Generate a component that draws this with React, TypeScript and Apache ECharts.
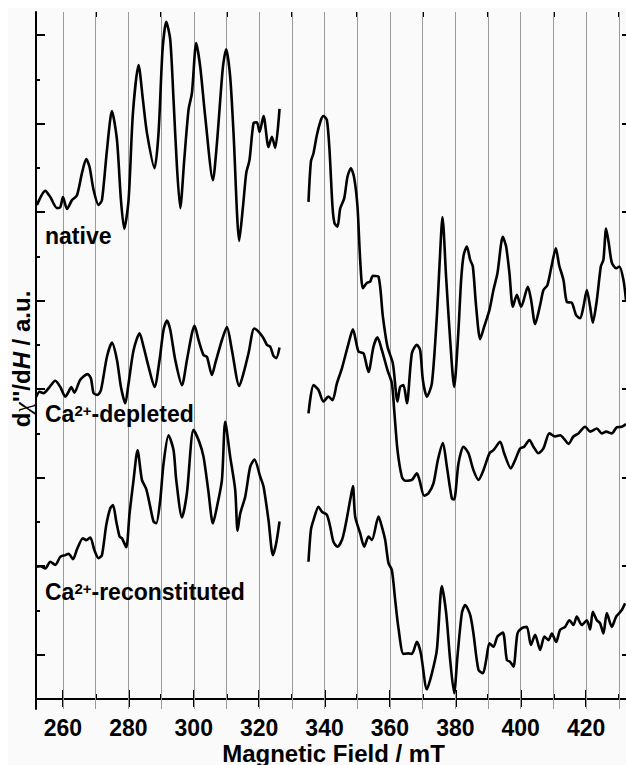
import React, { useEffect, useRef } from 'react';
import * as echarts from 'echarts';

// Magnetic field (mT) and derivative signal (a.u.) for each trace, in two segments
const nativeLeftField = [252.05,254.59,256.12,258.17,259.17,260,261.22,262.75,264.28,265.81,267.12,268.13,269.36,270.89,271.92,273.45,274.98,276.51,277.73,278.74,280.06,281.40,283.12,284.46,285.68,288.01,289.23,290.45,291.59,292.81,293.82,294.86,295.87,297.09,298.40,299.44,300.76,301.98,303.51,305.86,307.09,308.92,309.93,311.15,312.16,313.91,315.04,316.05,317.05,318.28,319.32,320.11,321.34,322.86,323.90,324.91,326.23];
const nativeLeftSignal = [11.16,11.48,11.34,11.09,11.11,11.34,11.07,11.27,11.38,11.88,12.20,12.02,11.50,11.16,11.27,12.40,13.28,12.63,11.27,10.62,11.27,13.24,14.32,13.53,12.79,11.99,12.79,14.66,15.30,14.89,13.53,12.02,11.09,12.18,13.31,13.69,14.82,14.28,13.15,11.72,12.56,14.28,14.68,14.05,12.79,10.35,11.11,11.88,12.18,13.01,13.03,12.81,13.17,12.47,12.70,12.45,13.33];

const nativeRightField = [335.09,335.83,336.62,337.66,338.89,339.68,340.72,341.52,342.43,343.04,343.96,344.79,346.01,347.02,348.06,349.07,350.08,350.90,351.73,352.95,353.96,354.79,356.50,357.84,359.25,360.90,362.31,363.13,364.14,365.18,366.71,368.24,369.25,370.07,371.30,372.83,374.35,375.21,376.07,377.20,378.42,379.64,380.87,381.78,382.55,383.53,384.54,385.36,386.37,387.60,388.82,390.44,391.66,392.88,394.53,395.54,396.55,397.59,398.82,400.13,402.18,403.19,404.41,405.94,406.95,408.17,409.30,410.74,411.75,413.06,414.10,415.63,416.95,418.17,419.18,420.22,421.23,422.05,423.28,424.50,425.29,426.12,426.94,427.86,429.18,430.19,431.41,432.2];
const nativeRightSignal = [11.23,12.14,12.33,12.74,13.08,13.17,13.08,12.40,11.12,10.75,10.67,11.08,11.31,11.80,11.99,11.77,11.12,9.92,9.28,9.40,9.43,9.56,9.54,8.64,7.96,7.58,6.72,7.05,7.09,6.68,7.81,8.00,7.88,7.21,6.83,7.13,8.64,9.87,10.89,9.51,8.11,7.05,8.22,9.47,10.03,10.22,9.92,9.77,8.86,8.13,8.41,8.79,9.24,9.62,10.44,10.22,9.62,8.86,9.13,8.86,9.31,9.01,8.47,8.90,9.24,9.35,9.73,10.18,9.80,9.47,8.97,8.95,8.67,8.60,8.86,9.24,8.86,8.50,9.01,9.77,9.92,10.63,10.29,9.86,9.73,9.77,9.47,9.01];

const depletedLeftField = [251.84,252.85,254.07,255.60,257.65,259.17,260.70,261.71,262.54,263.46,265.29,267.52,268.56,269.36,270.58,271.62,273.45,274.98,276.51,277.73,279.05,280.06,281.59,283.42,284.64,286.17,288.01,289.54,290.76,291.80,292.81,294.34,296.39,297.91,299.44,300.24,301.46,302.99,304.03,305.56,306.57,308.62,310.14,311.67,313.91,315.22,316.75,318.49,319.81,321.34,322.38,323.38,324.39,325.22,326.23];
const depletedLeftSignal = [6.83,6.94,6.91,7.02,7.19,7.05,6.83,6.94,7.05,6.92,7.21,7.34,7.24,6.91,6.87,6.98,7.73,8.05,7.66,7.05,6.68,7.13,7.88,8.26,7.96,7.51,7.05,7.66,8.34,8.55,8.34,7.66,7.09,7.66,8.26,8.43,8.11,7.77,7.73,7.32,7.58,8.11,8.40,7.88,7.07,7.36,7.81,8.37,8.30,8.15,8.00,7.96,7.75,7.70,7.94];

const depletedRightField = [335.09,336.62,338.15,339.68,341.21,342.43,343.78,345.31,347.33,348.67,350.38,351.91,353.44,354.97,356.19,357.54,359.25,360.60,361.30,362.31,363.65,364.66,366.71,368.24,369.03,370.47,371.79,373.31,374.66,376.19,377.41,378.94,379.64,380.96,382.49,384.02,385.54,387.07,388.60,390.44,391.66,393.71,394.93,396.98,398.30,399.82,401.05,402.67,403.89,405.42,406.95,408.78,410.53,412.05,413.58,414.59,416.12,417.65,419.70,421.23,423.28,424.80,426.12,427.86,429.39,430.92,432.2];
const depletedRightSignal = [6.45,7.09,6.98,6.72,6.83,6.75,7.13,7.47,8.03,8.35,7.85,7.81,7.39,7.96,8.17,7.88,7.43,7.13,6.53,5.62,5.02,4.93,4.95,5.10,4.95,4.59,4.65,4.87,5.40,5.78,5.25,4.53,4.51,5.32,5.70,5.55,5.17,4.95,5.17,5.55,5.62,5.81,5.55,5.21,5.40,5.66,5.70,5.85,5.70,5.55,5.66,6.00,5.93,5.96,5.85,5.76,5.93,6.00,6.15,6.04,6.11,6.00,6.04,6.00,6.14,6.15,6.21];

const reconLeftField = [252.05,253.06,254.59,256.12,257.65,259.17,260.70,261.71,263.06,264.28,266.12,267.12,268.35,269.57,270.89,271.92,273.24,274.46,275.29,276.30,277.31,278.04,279.35,280.36,281.59,282.81,284.15,285.47,286.69,287.70,288.53,289.75,290.76,292.29,293.82,294.64,296.39,297.91,299.93,301.67,302.99,304.43,305.86,307.09,308.62,309.62,311.15,312.68,313.39,314.21,315.74,317.27,318.58,320.33,321.34,322.86,324.21,325.22,326.23];
const reconLeftSignal = [2.99,3.00,2.95,3.10,3.03,3.21,3.25,3.28,3.16,3.38,3.63,3.59,3.65,3.37,3.18,3.25,3.93,4.31,4.38,4.01,3.67,3.63,3.43,4.19,4.95,5.62,4.95,4.74,4.34,4.01,3.97,4.50,5.32,5.96,5.62,4.95,4.10,4.65,6.08,5.81,5.47,4.72,3.97,4.34,4.95,6.26,5.47,4.72,3.80,4.19,4.57,5.25,5.41,5.02,4.80,4.04,3.25,3.52,4.01];

const reconRightField = [335.09,335.83,336.62,338.15,339.19,340.72,341.73,342.74,343.96,345.31,346.32,347.85,348.67,349.37,350.90,352.13,353.44,354.48,356.50,357.54,358.55,359.56,360.60,361.60,362.61,364.14,365.67,366.71,368.24,369.46,371.30,372.83,374.35,375.88,377.20,378.42,379.64,380.65,382.00,383.01,384.54,385.54,387.07,388.42,389.43,390.44,391.66,392.88,394.53,395.76,396.77,397.78,399.00,400.34,401.87,403.10,404.41,405.94,407.25,408.48,409.52,410.83,412.05,413.58,414.90,416.12,417.16,418.69,420.22,421.23,422.05,423.28,424.29,425.29,426.33,427.86,429.18,430.92,431.93];
const reconRightSignal = [3.10,3.82,4.04,4.34,4.23,4.16,3.89,3.55,3.44,3.59,3.89,4.50,4.81,4.12,3.74,3.44,3.67,3.59,4.12,3.89,3.59,3.07,2.91,2.24,1.60,1.02,1.03,1.02,1.29,1.03,0.22,0.58,1.11,2.55,1.94,0.88,0.13,0.96,1.94,2.12,1.90,1.48,0.66,0.58,0.88,1.26,1.18,1.41,1.50,0.88,0.84,0.73,1.48,1.60,1.63,1.22,1.45,1.11,1.41,1.33,1.48,1.29,1.56,1.63,1.78,1.67,1.86,1.67,1.78,1.57,1.97,1.78,1.71,1.48,1.94,1.63,1.86,2.01,2.16];

// Axis ticks / labels
const X_MAJOR = [260, 280, 300, 320, 340, 360, 380, 400, 420];
const X_MINOR = [270, 290, 310, 330, 350, 370, 390, 410, 430];
const X_GRID = [260, 270, 280, 290, 300, 310, 320, 330, 340, 350, 360, 370, 380, 390, 400, 410, 420, 430];
const Y_MAJOR = [1, 3, 5, 7, 9, 11, 13, 15];
const Y_MINOR = [0, 2, 4, 6, 8, 10, 12, 14];

const X_MIN = 251.75;
const X_MAX = 432.2;
const Y_MIN = -0.226;
const Y_MAX = 15.52;

const FONT = "'Liberation Sans', Arial, Helvetica, sans-serif";

function pairs(f: number[], s: number[]) {
  return f.map((x, i) => [x, s[i]]);
}

function traceSeries(name: string, f: number[], s: number[]) {
  return {
    name,
    type: 'line',
    data: pairs(f, s),
    xAxisIndex: 0,
    yAxisIndex: 0,
    showSymbol: false,
    symbol: 'none',
    smooth: 0.25,
    z: 5,
    lineStyle: { color: '#000', width: 2.6 },
    silent: true,
  };
}

export default function App() {
  const ref = useRef<HTMLDivElement>(null);
  useEffect(() => {
    if (!ref.current) return;
    const chart = echarts.init(ref.current, undefined, { renderer: 'svg' });
    const axisBase = { type: 'value', min: X_MIN, max: X_MAX, splitLine: { show: false } };
    const yBase = { type: 'value', min: Y_MIN, max: Y_MAX, splitLine: { show: false }, axisLabel: { show: false } };
    const black = { color: '#000', width: 2 };
    const richMain = { fontSize: 23, fontWeight: 'bold', fontFamily: FONT, fill: '#000' };
    const richSup = { fontSize: 15, fontWeight: 'bold', fontFamily: FONT, fill: '#000', verticalAlign: 'top' };
    chart.setOption({
      animation: false,
      backgroundColor: '#fafafa',
      grid: { left: 28, right: 0, top: 4, bottom: 56, containLabel: false },
      xAxis: [
        {
          ...axisBase,
          position: 'bottom',
          axisLine: { show: true, lineStyle: black },
          axisTick: { show: true, inside: true, length: 9, customValues: X_MAJOR, lineStyle: black },
          axisLabel: {
            show: true, customValues: X_MAJOR, margin: 9, color: '#000',
            fontSize: 23, fontWeight: 'bold', fontFamily: FONT, lineHeight: 19,
          },
        },
        {
          ...axisBase,
          position: 'bottom',
          axisLine: { show: false },
          axisTick: { show: true, inside: true, length: 5, customValues: X_MINOR, lineStyle: black },
          axisLabel: { show: false },
        },
        {
          ...axisBase,
          position: 'top',
          axisLine: { show: true, lineStyle: black },
          axisTick: { show: true, inside: true, length: 8, customValues: X_MAJOR, lineStyle: black },
          axisLabel: { show: false },
        },
        {
          ...axisBase,
          position: 'top',
          axisLine: { show: false },
          axisTick: { show: true, inside: true, length: 5, customValues: X_MINOR, lineStyle: black },
          axisLabel: { show: false },
        },
      ],
      yAxis: [
        {
          ...yBase,
          position: 'left',
          axisLine: { show: true, lineStyle: black },
          axisTick: { show: true, inside: true, length: 9, customValues: Y_MAJOR, lineStyle: black },
        },
        {
          ...yBase,
          position: 'left',
          axisLine: { show: false },
          axisTick: { show: true, inside: true, length: 4, customValues: Y_MINOR, lineStyle: black },
        },
        {
          ...yBase,
          position: 'right',
          axisLine: { show: false },
          axisTick: { show: true, inside: true, length: 4, customValues: Y_MAJOR, lineStyle: black },
        },
      ],
      series: [
        {
          name: 'grid',
          type: 'line',
          data: [],
          xAxisIndex: 0,
          yAxisIndex: 0,
          z: 1,
          silent: true,
          markLine: {
            silent: true,
            symbol: 'none',
            label: { show: false },
            lineStyle: { color: '#9a9a9a', width: 1, type: 'solid' },
            data: X_GRID.map((v) => ({ xAxis: v })),
          },
        },
        traceSeries('native', nativeLeftField, nativeLeftSignal),
        traceSeries('native', nativeRightField, nativeRightSignal),
        traceSeries('Ca2+-depleted', depletedLeftField, depletedLeftSignal),
        traceSeries('Ca2+-depleted', depletedRightField, depletedRightSignal),
        traceSeries('Ca2+-reconstituted', reconLeftField, reconLeftSignal),
        traceSeries('Ca2+-reconstituted', reconRightField, reconRightSignal),
      ],
      graphic: [
        {
          type: 'text', x: 37, y: 228, z: 10,
          style: { text: 'native', font: `bold 23px ${FONT}`, fill: '#000', textAlign: 'left', textVerticalAlign: 'middle' },
        },
        {
          type: 'text', x: 37, y: 406, z: 10,
          style: {
            text: '{m|Ca}{s|2+}{m|-depleted}', textAlign: 'left', textVerticalAlign: 'middle',
            rich: { m: richMain, s: richSup },
          },
        },
        {
          type: 'text', x: 37, y: 584, z: 10,
          style: {
            text: '{m|Ca}{s|2+}{m|-reconstituted}', textAlign: 'left', textVerticalAlign: 'middle',
            rich: { m: richMain, s: richSup },
          },
        },
        {
          type: 'text', x: 325.5, y: 745, z: 10,
          style: {
            text: 'Magnetic Field / mT', font: `bold 24px ${FONT}`, fill: '#000',
            textAlign: 'center', textVerticalAlign: 'middle', lineHeight: 20,
          },
        },
        {
          type: 'text', x: 13.5, y: 351, rotation: Math.PI / 2, z: 10,
          style: {
            text: "{m|d}{g|χ}{m|''/d}{h|H}{m| / a.u.}", textAlign: 'center', textVerticalAlign: 'middle',
            rich: {
              m: { fontSize: 24, fontWeight: 'bold', fontFamily: FONT, fill: '#000' },
              g: { fontSize: 24, fontWeight: 'normal', fontStyle: 'italic', fontFamily: "'Liberation Serif', 'DejaVu Serif', serif", fill: '#000' },
              h: { fontSize: 24, fontWeight: 'bold', fontStyle: 'italic', fontFamily: FONT, fill: '#000' },
            },
          },
        },
      ],
    });
    return () => chart.dispose();
  }, []);
  return (
    <div
      ref={ref}
      style={{ position: 'absolute', left: 8, top: 8, width: 618, height: 757 }}
    />
  );
}
